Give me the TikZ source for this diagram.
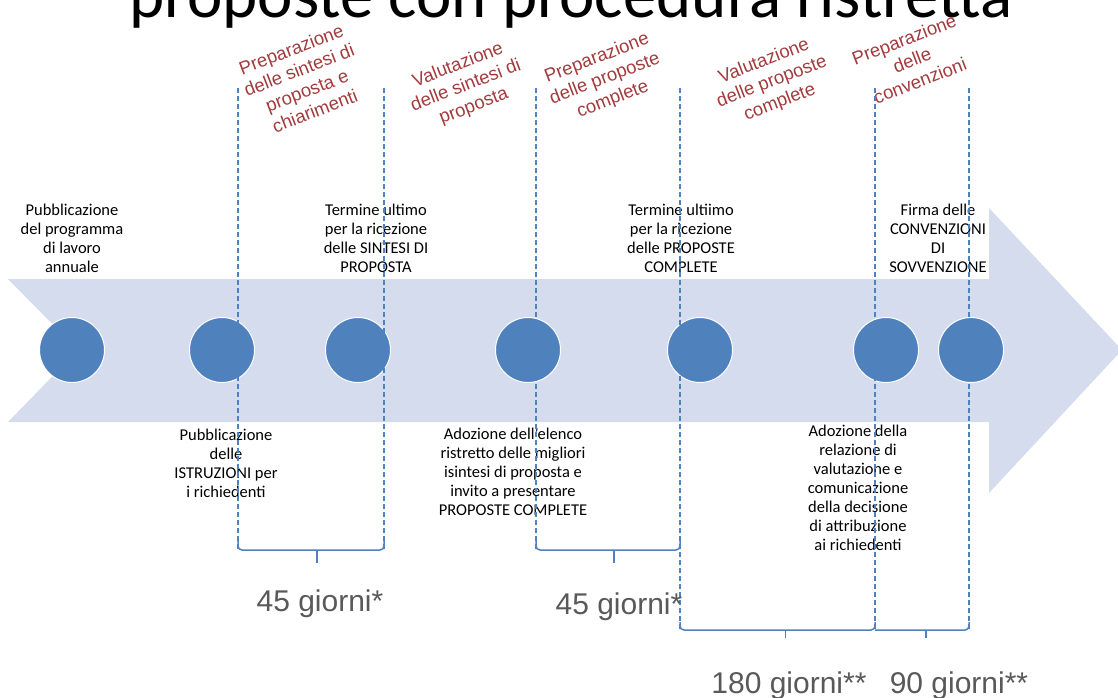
\documentclass[tikz,border=0pt]{standalone}
\usepackage{fontspec}
\setmainfont{Carlito}
\newfontfamily\phasefont{Liberation Sans}
\usetikzlibrary{calc}
\definecolor{bandblue}{HTML}{D5DCEE}
\definecolor{stageblue}{HTML}{4F81BD}
\definecolor{phasered}{HTML}{A23B3D}
\definecolor{periodgray}{HTML}{595959}

\begin{document}
\begin{tikzpicture}[x=1pt, y=-1pt,
  stage/.style={circle, fill=stageblue, draw=white, line width=1pt, minimum size=65pt, inner sep=0pt},
  event/.style={align=center, inner sep=0pt, font=\fontsize{16.5}{19}\selectfont},
  phase/.style={align=center, rotate=21, inner sep=0pt, text=phasered, font=\phasefont\fontsize{18.5}{22}\selectfont},
  period/.style={anchor=base, inner sep=0pt, text=periodgray, font=\phasefont\fontsize{30}{32}\selectfont},
  limit/.style={stageblue, line width=1.2pt, dash pattern=on 5pt off 3pt},
  bracket/.style={stageblue, line width=1.5pt, rounded corners=4pt}]

  \useasboundingbox (0,0) rectangle (1118,697);
  \clip (0,0) rectangle (1118,697);

  % title, cut by the top edge
  \node (title) [anchor=base, inner sep=0pt, font=\fontsize{67}{70}\selectfont] at (571,17) {proposte con procedura ristretta};

  % the time arrow
  \fill[bandblue] (8,279) -- (989,279) -- (989,208) -- (1122,350) -- (989,493)
    -- (989,422) -- (8,422) -- (78,350) -- cycle;

  % milestones
  \node (s1) [stage] at (72,350) {};
  \node (s2) [stage] at (222,350) {};
  \node (s3) [stage] at (358,350) {};
  \node (s4) [stage] at (528,350) {};
  \node (s5) [stage] at (700,350) {};
  \node (s6) [stage] at (886,350) {};
  \node (s7) [stage] at (971,350) {};

  % events
  \node (e1) [event] at (72,238) {Pubblicazione\\del programma\\di lavoro\\annuale};
  \node (e2) [event] at (226,463) {Pubblicazione\\delle\\ISTRUZIONI per\\i richiedenti};
  \node (e3) [event] at (376,238) {Termine ultimo\\per la ricezione\\delle SINTESI DI\\PROPOSTA};
  \node (e4) [event] at (513,472) {Adozione dell'elenco\\ristretto delle migliori\\isintesi di proposta e\\invito a presentare\\PROPOSTE COMPLETE};
  \node (e5) [event] at (681,238) {Termine ultiimo\\per la ricezione\\delle PROPOSTE\\COMPLETE};
  \node (e6) [event] at (858,488) {Adozione della\\relazione di\\valutazione e\\comunicazione\\della decisione\\di attribuzione\\ai richiedenti};
  \node (e7) [event] at (938,238) {Firma delle\\CONVENZIONI\\DI\\SOVVENZIONE};

  % phases
  \node (p1) [phase] at (303,80) {Preparazione\\delle sintesi di\\proposta e\\chiarimenti};
  \node (p2) [phase] at (466,86) {Valutazione\\delle sintesi di\\proposta};
  \node (p3) [phase] at (605,79) {Preparazione\\delle proposte\\complete};
  \node (p4) [phase] at (772,82) {Valutazione\\delle proposte\\complete};
  \node (p5) [phase] at (912,60) {Preparazione\\delle\\convenzioni};

  % deadlines
  \foreach \n/\x/\y in {1/238/550, 2/384/550, 3/536/550, 4/680/630, 5/875/630, 6/969/630} {
    \coordinate (t\n) at (\x,88);
    \coordinate (b\n) at (\x,\y);
  }
  \coordinate (k4) at (680,550);
  \foreach \n in {1,...,6}
    \draw[limit] (t\n) -- (b\n);

  % durations
  \draw[bracket] ([yshift=9pt]b1) -- (b1) -- (b2) -- ([yshift=9pt]b2);
  \draw[bracket] ($(b1)!0.54!(b2)$) -- ++(0,13);
  \draw[bracket] ([yshift=9pt]b3) -- (b3) -- (k4) -- ([yshift=9pt]k4);
  \draw[bracket] ($(b3)!0.54!(k4)$) -- ++(0,13);
  \draw[bracket] ([yshift=8pt]b4) -- (b4) -- (b5) -- ([yshift=8pt]b5);
  \draw[bracket] ($(b4)!0.54!(b5)$) -- ++(0,8);
  \draw[bracket] (b5) -- (b6) -- ([yshift=8pt]b6);
  \draw[bracket] ($(b5)!0.54!(b6)$) -- ++(0,8);

  \node (g1) [period] at (320,611) {45 giorni*};
  \node (g2) [period] at (619,614) {45 giorni*};
  \node (g3) [period] at (789,693) {180 giorni**};
  \node (g4) [period] at (959,693) {90 giorni**};
\end{tikzpicture}
\end{document}
